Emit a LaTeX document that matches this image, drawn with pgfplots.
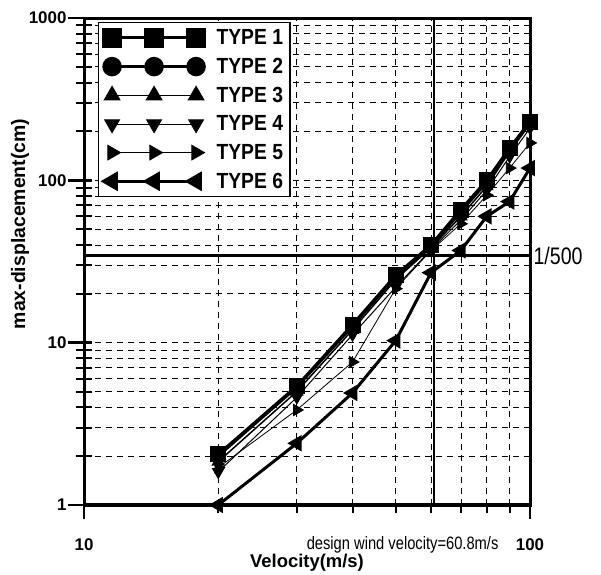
\documentclass[border=0pt]{standalone}
\usepackage{fontspec}
\setmainfont{Liberation Sans}
\newfontfamily\legfont[FakeStretch=0.88]{Liberation Sans}
\newfontfamily\narrowfont[FakeStretch=0.82]{Liberation Sans}
\usepackage{pgfplots}
\pgfplotsset{compat=1.18}
\begin{document}
\begin{tikzpicture}
\begin{axis}[
  at={(0,0)}, anchor=south west,
  scale only axis, width=446bp, height=487bp,
  xmode=log, ymode=log,
  xmin=10, xmax=100, ymin=1, ymax=1000,
  xtick={10,100}, ytick={1,10,100,1000},
  minor xtick={20,30,40,50,60,70,80,90},
  minor ytick={2,3,4,5,6,7,8,9,20,30,40,50,60,70,80,90,200,300,400,500,600,700,800,900},
  xtick pos=bottom, ytick pos=left, tick align=outside,
  tickwidth=14bp, subtickwidth=8bp,
  axis line style={line width=3bp},
  xticklabels={\textbf{10},\textbf{100}},
  yticklabels={\textbf{1},\textbf{10},\textbf{100},\textbf{1000}},
  grid=both,
  major grid style={black, line width=0.8bp, dash pattern=on 6bp off 5bp},
  minor grid style={black, line width=0.8bp, dash pattern=on 6bp off 5bp},
  tick label style={font=\fontsize{17}{17}\selectfont\bfseries},
  xticklabel style={yshift=-16bp},
  xlabel={\textbf{Velocity(m/s)}},
  ylabel={\textbf{max-displacement(cm)}},
  xlabel style={at={(axis description cs:0.5,0)}, anchor=center, yshift=-58bp, font=\fontsize{18.5}{18.5}\selectfont},
  ylabel style={at={(axis description cs:-0.1435,0.577)}, anchor=center, font=\fontsize{19.5}{19.5}\selectfont},
  clip=false,
  legend style={at={(axis description cs:0.031,0.992)}, anchor=north west,
    draw=black, line width=1.5bp, fill=white,
    font=\legfont\fontsize{22}{22}\selectfont\bfseries,
    row sep=8bp, inner xsep=5bp, inner ysep=5bp,
    /tikz/every odd column/.append style={column sep=10bp}},
  legend cell align=left,
  legend image code/.code={\draw[#1,mark repeat=1,mark phase=1,mark size=8.5bp] plot coordinates {(0bp,0bp) (42bp,0bp) (84bp,0bp)};},
]
\addplot[black, line width=3bp, mark=square*, mark size=6.5bp] coordinates {
(20,2.05) (30,5.4) (40,12.9) (50,26) (60,40) (70,66) (80,100) (90,158) (100,230)};
\addlegendentry{TYPE 1}
\addplot[black, line width=2.5bp, mark=*, mark size=6bp] coordinates {
(20,2.0) (30,5.3) (40,12.6) (50,25.5) (60,39) (70,64) (80,97) (90,155) (100,228)};
\addlegendentry{TYPE 2}
\addplot[black, line width=1.5bp, mark=triangle*, mark size=6.5bp] coordinates {
(20,1.85) (30,5.0) (40,12.0) (50,24.5) (60,38.5) (70,60) (80,92) (90,150) (100,222)};
\addlegendentry{TYPE 3}
\addplot[black, line width=1bp, mark=triangle*, mark size=6.5bp, mark options={rotate=180}] coordinates {
(20,1.6) (30,4.6) (40,11.2) (50,22) (60,37.5) (70,57) (80,87) (90,140) (100,210)};
\addlegendentry{TYPE 4}
\addplot[black, line width=0.8bp, mark=triangle*, mark size=6.5bp, mark options={rotate=-90}] coordinates {
(20,1.7) (30,3.85) (40,7.6) (50,21.5) (60,37) (70,54) (80,81) (90,119) (100,170)};
\addlegendentry{TYPE 5}
\addplot[black, line width=3bp, mark=triangle*, mark size=6.5bp, mark options={rotate=90}] coordinates {
(20,1.0) (30,2.4) (40,4.9) (50,10.3) (60,27) (70,37) (80,60) (90,74) (100,119)};
\addlegendentry{TYPE 6}
\node[anchor=west, font=\narrowfont\fontsize{24}{24}\selectfont] at (axis cs:100,34.4) {1/500};
\node[anchor=center, yshift=-40bp, font=\narrowfont\fontsize{18}{18}\selectfont] at (axis cs:51.8,1) {design wind velocity=60.8m/s};
\end{axis}
\begin{axis}[
  at={(0,0)}, anchor=south west,
  scale only axis, width=446bp, height=487bp,
  xmode=log, ymode=log,
  xmin=10, xmax=100, ymin=1, ymax=1000,
  xtick={10,100}, ytick={1,10,100,1000},
  minor xtick={20,30,40,50,60,70,80,90},
  minor ytick={2,3,4,5,6,7,8,9,20,30,40,50,60,70,80,90,200,300,400,500,600,700,800,900},
  xtick pos=bottom, ytick pos=left, tick align=outside,
  tickwidth=14bp, subtickwidth=8bp,
  axis line style={line width=3bp},
  xticklabels={}, yticklabels={},
  major tick style={black, line width=2.5bp},
  minor tick style={black, line width=2bp},
  clip=false,
]
\addplot[black, line width=3.5bp] coordinates {(10,34.4) (100,34.4)};
\addplot[black, line width=2bp] coordinates {(60.8,1) (60.8,1000)};
\pgfplotsinvokeforeach{20,30,40,50,60,70,80,90}{\draw[black, line width=2bp] (axis cs:#1,1) -- ([yshift=-8bp]axis cs:#1,1);}
\pgfplotsinvokeforeach{10,100}{\draw[black, line width=2.5bp] (axis cs:#1,1) -- ([yshift=-14bp]axis cs:#1,1);}
\pgfplotsinvokeforeach{2,3,4,5,6,7,8,9,20,30,40,50,60,70,80,90,200,300,400,500,600,700,800,900}{\draw[black, line width=2bp] ([xshift=-7bp]axis cs:10,#1) -- ([xshift=8bp]axis cs:10,#1);}
\pgfplotsinvokeforeach{1,10,100,1000}{\draw[black, line width=2.5bp] ([xshift=-16bp]axis cs:10,#1) -- ([xshift=8bp]axis cs:10,#1);}
\end{axis}
\path (-84bp,-70bp) rectangle (517bp,505bp);
\end{tikzpicture}
\end{document}
